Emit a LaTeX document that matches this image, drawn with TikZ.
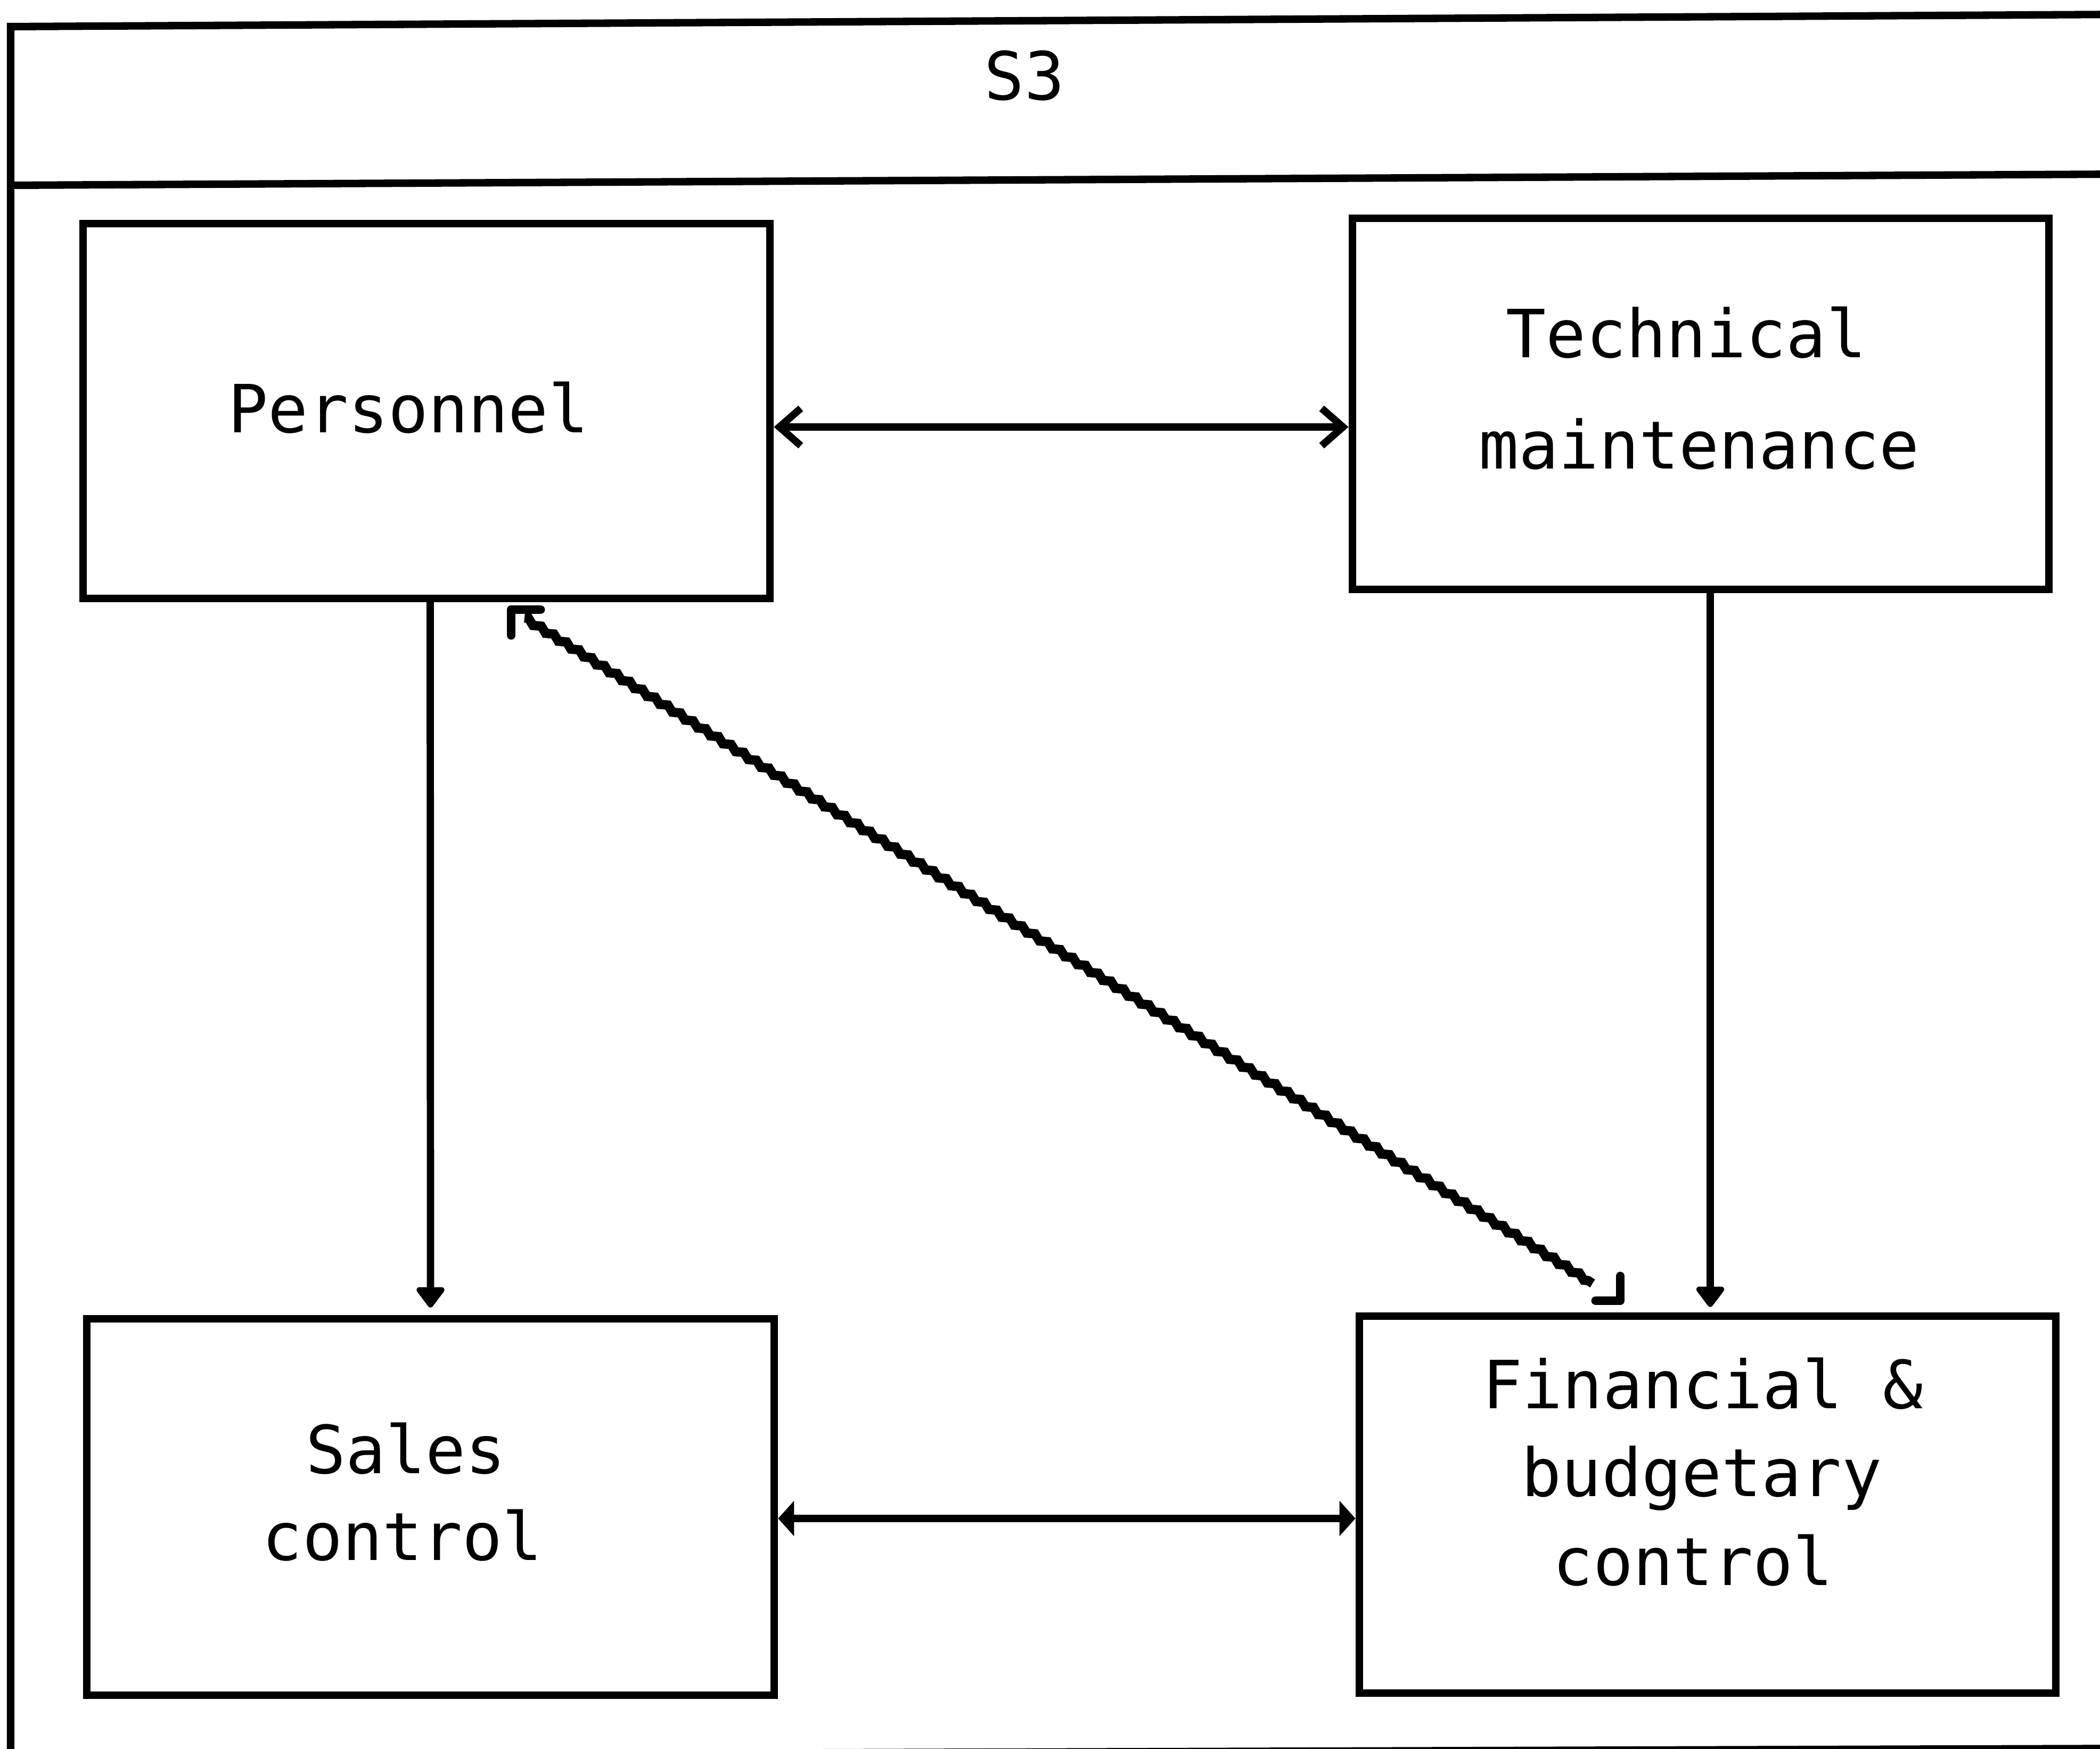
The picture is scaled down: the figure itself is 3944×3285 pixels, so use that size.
\documentclass[tikz,border=0pt]{standalone}
\usepackage{fontspec}
\setmonofont{DejaVu Sans Mono}
\usetikzlibrary{arrows.meta,calc,decorations.pathmorphing}
\begin{document}
\begin{tikzpicture}[x=0.01cm,y=-0.01cm,
  heavy/.style={line width=4pt},
  unit/.style={draw,heavy,rectangle,inner sep=0pt},
  lbl/.style={font=\ttfamily\fontsize{35.5}{40}\selectfont,inner sep=0pt,anchor=base},
  link/.style={line width=3.9pt},
  openboth/.style={link,{Straight Barb[length=0.4cm,width=0.7cm]}-{Straight Barb[length=0.4cm,width=0.7cm]}},
  solidboth/.style={link,{Triangle[length=0.3cm,width=0.65cm]}-{Triangle[length=0.3cm,width=0.65cm]}},
  down/.style={link,-{Triangle[length=0.42cm,width=0.6cm,round]}},
  jagged/.style={line width=5pt,decorate,decoration={zigzag,segment length=0.28cm,amplitude=0.035cm}},
  corner/.style={line width=4.8pt,line cap=round,line join=round}
]
\useasboundingbox (0,0) rectangle (3944,3285);

% outer frame and title band
\draw[heavy] (3990,27) -- (20,50) -- (20,3297) -- (3990,3284);
\draw[heavy] (20,348) -- (3990,327);
\node[lbl] (title) at (1924,188) {S3};

% the four units
\node[unit,minimum width=12.90cm,minimum height=7.04cm] (pers)  at (801,772)    {};
\node[unit,minimum width=13.08cm,minimum height=6.97cm] (tech)  at (3194,758.5) {};
\node[unit,minimum width=12.91cm,minimum height=7.07cm] (sales) at (808.5,2830.5) {};
\node[unit,minimum width=13.08cm,minimum height=7.08cm] (fin)   at (3207,2826)  {};

% unit labels
\node[lbl] (persT)   at (767,812)   {Personnel};
\node[lbl] (techT1)  at (3167,672)  {Technical};
\node[lbl] (techT2)  at (3191,880)  {maintenance};
\node[lbl] (salesT1) at (762,2767)  {Sales};
\node[lbl] (salesT2) at (756,2930)  {control};
\node[lbl] (finT1)   at (3198,2645) {Financial \&};
\node[lbl] (finT2)   at (3196,2810) {budgetary};
\node[lbl] (finT3)   at (3180,2977) {control};

% horizontal links
\draw[openboth]  ($(pers.east)+(0,30)$) -- ($(tech.west)+(0,43.5)$);
\draw[solidboth] ($(sales.east)+(0,21.5)$) -- ($(fin.west)+(0,26)$);

% vertical links
\draw[down,shorten >=0.14cm] ($(pers.south)+(7,0)$) -- (sales.north);
\draw[down,shorten >=0.1cm]  ($(tech.south)+(18,0)$) -- ($(fin.north)+(5,0)$);

% diagonal link with square corner heads
\coordinate (dA) at (960,1145);
\coordinate (dB) at (3043,2443);
\draw[jagged] ($(dA)!0.012!(dB)$) -- ($(dA)!0.975!(dB)$);
\draw[corner] ($(dA)+(55,0)$) -- (dA) -- ($(dA)+(0,48)$);
\draw[corner] ($(dB)+(-46,0)$) -- (dB) -- ($(dB)+(0,-46)$);
\end{tikzpicture}
\end{document}
